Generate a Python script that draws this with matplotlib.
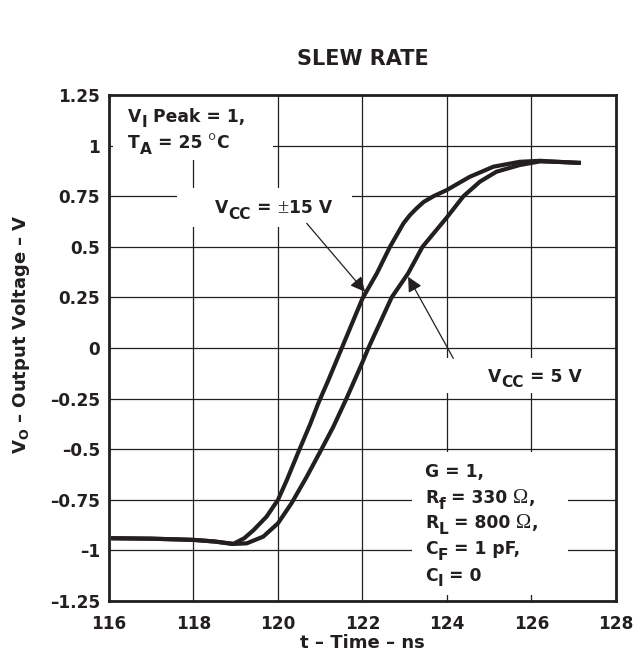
import matplotlib
matplotlib.use("Agg")
import matplotlib.pyplot as plt
from matplotlib.patches import Rectangle

plt.rcParams['font.family'] = ['DejaVu Sans']
plt.rcParams['font.weight'] = 'bold'
plt.rcParams['mathtext.fontset'] = 'custom'
plt.rcParams['mathtext.rm'] = 'DejaVu Sans:bold'
plt.rcParams['mathtext.bf'] = 'DejaVu Sans:bold'

# datos
t_15 = [116.1, 117.0, 118.0, 118.5, 118.94, 119.2, 119.42, 119.73, 120.0, 120.21,
        120.48, 120.76, 120.95, 121.19, 121.5, 122.0, 122.34, 122.65, 122.97, 123.12,
        123.28, 123.45, 123.68, 123.99, 124.54, 125.1, 125.72, 126.2, 126.6, 127.12]
v_15 = [-0.94, -0.942, -0.948, -0.956, -0.968, -0.94, -0.90, -0.833, -0.75, -0.652,
        -0.515, -0.377, -0.275, -0.16, -0.005, 0.245, 0.369, 0.5, 0.616, 0.656,
        0.69, 0.722, 0.75, 0.78, 0.846, 0.896, 0.92, 0.925, 0.92, 0.915]

t_5 = [116.1, 117.0, 118.0, 118.5, 118.94, 119.26, 119.65, 120.0, 120.32, 120.68,
       121.03, 121.31, 121.62, 122.0, 122.14, 122.69, 123.08, 123.42, 124.0,
       124.39, 124.78, 125.17, 125.72, 126.2, 126.6, 127.12]
v_5 = [-0.94, -0.942, -0.948, -0.956, -0.968, -0.965, -0.932, -0.866, -0.767, -0.636,
       -0.5, -0.389, -0.25, -0.07, 0.0, 0.25, 0.369, 0.5, 0.646,
       0.75, 0.822, 0.871, 0.904, 0.922, 0.92, 0.915]

xticks = [116, 118, 120, 122, 124, 126, 128]
yticks = [-1.25, -1, -0.75, -0.5, -0.25, 0, 0.25, 0.5, 0.75, 1, 1.25]
ylabels = ['–1.25', '–1', '–0.75', '–0.5', '–0.25', '0', '0.25', '0.5', '0.75', '1', '1.25']

negro = '#231f20'
fs = 12.3

fig = plt.figure(figsize=(6.33, 6.59), dpi=100)
ax = fig.add_axes([0.1722, 0.0880, 0.8009, 0.7678])
renderer = fig.canvas.get_renderer()

ax.plot(t_15, v_15, color=negro, lw=3, zorder=4)
ax.plot(t_5, v_5, color=negro, lw=3, zorder=4)

ax.set_xlim(116, 128)
ax.set_ylim(-1.25, 1.25)
ax.set_xticks(xticks)
ax.set_xticklabels([str(x) for x in xticks])
ax.set_yticks(yticks)
ax.set_yticklabels(ylabels)
ax.tick_params(length=0, labelsize=12.2, colors=negro)
ax.tick_params(axis='x', pad=10)
ax.tick_params(axis='y', pad=6.5)
ax.grid(True, color=negro, lw=0.9)
ax.set_axisbelow(True)
for s in ax.spines.values():
    s.set_linewidth(2)
    s.set_color(negro)
    s.set_zorder(6)

fig.text(0.5727, 1 - 59 / 659, 'SLEW RATE', fontsize=15, fontweight='bold',
         ha='center', va='center', color=negro)
ax.set_xlabel('t – Time – ns', fontsize=13, fontweight='bold', labelpad=1, color=negro)
ax.set_ylabel(r'V$_\mathrm{O}$ – Output Voltage – V', fontsize=13, fontweight='bold', color=negro)
ax.yaxis.set_label_coords(-0.152, 0.528)
ax.yaxis.label.set_va('bottom')

# fondos blancos que tapan la rejilla detras de los textos
fondos = [(116.09, 0.93, 3.79, 0.32), (117.61, 0.60, 4.14, 0.19),
          (123.83, -0.222, 4.17, 0.172), (123.17, -1.22, 3.69, 0.706)]
for x0, y0, w, h in fondos:
    ax.add_patch(Rectangle((x0, y0), w, h, facecolor='white', edgecolor='none', zorder=2))


def texto(x, y, piezas):
    # escribe texto con subindices casi del mismo tamano, como en la hoja de datos
    off = 0
    for s, tipo in piezas:
        kw = dict(fontsize=fs, fontweight='bold', family='DejaVu Sans')
        dy = 0
        if tipo == 's':
            kw['fontsize'] = fs * 0.9
            dy = -5.5
        if tipo == 'y':
            kw = dict(fontsize=fs * 1.2, fontweight='normal', family='Liberation Serif')
        t = ax.annotate(s, xy=(x, y), xytext=(off, dy), textcoords='offset pixels',
                        ha='left', va='baseline', color=negro, zorder=5, **kw)
        off += t.get_window_extent(renderer).width


texto(116.45, 1.118, [('V', 'n'), ('I', 's'), (' Peak = 1,', 'n')])
texto(116.45, 0.987, [('T', 'n'), ('A', 's'), (' = 25 ', 'n'), ('°', 'y'), ('C', 'n')])
texto(118.51, 0.665, [('V', 'n'), ('CC', 's'), (' = ', 'n'), ('±', 'y'), ('15 V', 'n')])
texto(124.97, -0.1665, [('V', 'n'), ('CC', 's'), (' = 5 V', 'n')])
texto(123.48, -0.636, [('G = 1,', 'n')])
texto(123.48, -0.767, [('R', 'n'), ('f', 's'), (' = 330 ', 'n'), ('Ω', 'y'), (',', 'n')])
texto(123.48, -0.891, [('R', 'n'), ('L', 's'), (' = 800 ', 'n'), ('Ω', 'y'), (',', 'n')])
texto(123.48, -1.019, [('C', 'n'), ('F', 's'), (' = 1 pF,', 'n')])
texto(123.48, -1.151, [('C', 'n'), ('I', 's'), (' = 0', 'n')])

flecha = dict(arrowstyle='-|>', color=negro, lw=0.9, mutation_scale=22, shrinkA=0, shrinkB=0)
ax.annotate('', xy=(122.06, 0.278), xytext=(120.68, 0.616), arrowprops=flecha, zorder=5)
ax.annotate('', xy=(123.08, 0.352), xytext=(124.15, -0.051), arrowprops=flecha, zorder=5)

fig.savefig('out.png', dpi=100)
